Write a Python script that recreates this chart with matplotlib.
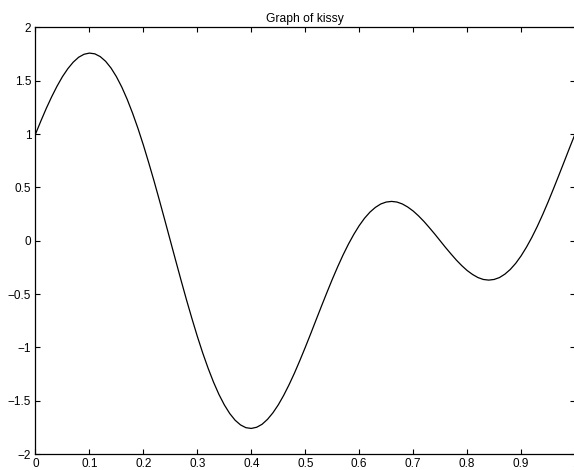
"""Graph of kissy, redrawn from the reference picture"""
import numpy as np
import matplotlib
matplotlib.use("Agg")
import matplotlib.pyplot as plt

# values, one every 0.01 on x
X_VALUES = np.round(np.arange(0, 101) * 0.01, 2)
Y_VALUES = [
    1.000, 1.123, 1.241, 1.350, 1.450, 1.539, 1.614, 1.675, 1.721, 1.749,
    1.760, 1.753, 1.727, 1.683, 1.620, 1.539, 1.441, 1.326, 1.196, 1.053,
    0.897, 0.730, 0.556, 0.374, 0.188, 0.000,
    -0.188, -0.374, -0.556, -0.730, -0.897, -1.053, -1.196, -1.326, -1.441,
    -1.539, -1.620, -1.683, -1.727, -1.753, -1.760, -1.749, -1.721, -1.675,
    -1.614, -1.539, -1.450, -1.350, -1.241, -1.123, -1.000,
    -0.873, -0.743, -0.614, -0.487, -0.363, -0.245, -0.134, -0.032, 0.060,
    0.142, 0.212, 0.269, 0.313, 0.345, 0.363, 0.369, 0.363, 0.345, 0.316,
    0.279, 0.233, 0.181, 0.123, 0.063, 0.000,
    -0.063, -0.123, -0.181, -0.233, -0.279, -0.316, -0.345, -0.363, -0.369,
    -0.363, -0.345, -0.313, -0.269, -0.212, -0.142, -0.060, 0.032, 0.134,
    0.245, 0.363, 0.487, 0.614, 0.743, 0.873, 1.000,
]
X_TICKS = [0, 0.1, 0.2, 0.3, 0.4, 0.5, 0.6, 0.7, 0.8, 0.9, 1]
X_TICK_LABELS = ["0", "0.1", "0.2", "0.3", "0.4", "0.5", "0.6", "0.7", "0.8", "0.9", "1"]
Y_TICKS = [-2, -1.5, -1, -0.5, 0, 0.5, 1, 1.5, 2]
Y_TICK_LABELS = ["\u22122", "\u22121.5", "\u22121", "\u22120.5", "0", "0.5", "1", "1.5", "2"]
TITLE = "Graph of kissy"

plt.rcParams["font.family"] = ["Liberation Sans", "DejaVu Sans"]

fig = plt.figure(figsize=(5.74, 4.70), dpi=100)
axs = fig.add_axes([0.0618, 0.034, 0.9400, 0.9075])
axs.plot(X_VALUES, Y_VALUES, color="black", linewidth=0.9)
axs.set_xlim(0, 1)
axs.set_ylim(-2, 2)
axs.set_xticks(X_TICKS)
axs.set_xticklabels(X_TICK_LABELS)
axs.set_yticks(Y_TICKS)
axs.set_yticklabels(Y_TICK_LABELS)
axs.tick_params(direction="in", length=3.8, width=0.8, labelsize=8.5,
                top=True, right=True, pad=3)
for spine in axs.spines.values():
    spine.set_linewidth(0.9)
axs.set_title(TITLE, fontsize=8.7, pad=4)

fig.savefig("out.png", dpi=100)
